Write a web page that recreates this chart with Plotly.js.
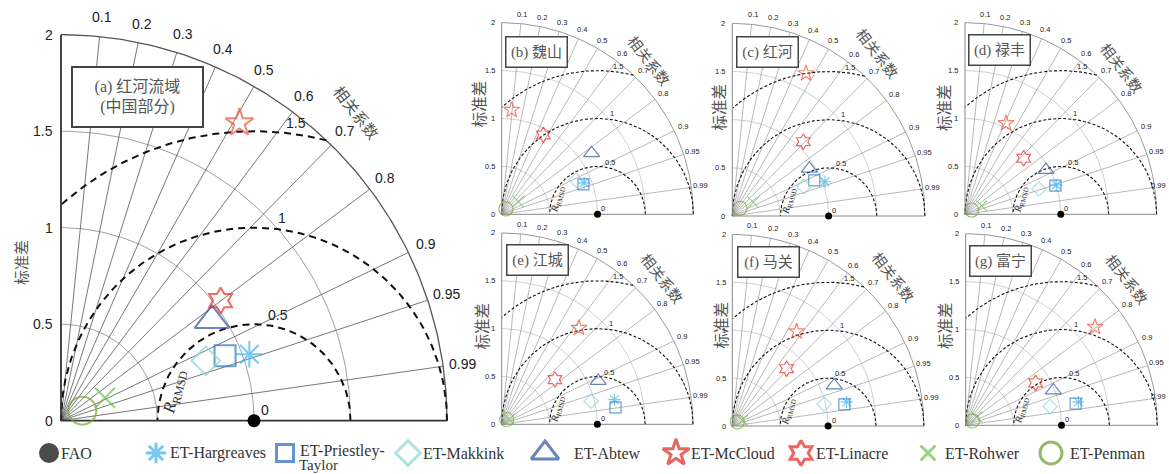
<!DOCTYPE html>
<html><head><meta charset="utf-8">
<script src="https://cdn.plot.ly/plotly-3.0.1.min.js"></script>
<style>html,body{margin:0;padding:0;background:#fff}#chart{width:1169px;height:474px}</style>
</head><body><div id="chart"></div>
<script>
// ---------------- DATA ----------------
const methods = ['ET-Hargreaves','ET-Priestley-Taylor','ET-Makkink','ET-Abtew','ET-McCloud','ET-Linacre','ET-Rohwer','ET-Penman'];
const refName = 'FAO';
const refStd = 1.0;
const refCorr = 1.0;
const corrTicks = [0.1,0.2,0.3,0.4,0.5,0.6,0.7,0.8,0.9,0.95,0.99];
const corrTickText = ['0.1','0.2','0.3','0.4','0.5','0.6','0.7','0.8','0.9','0.95','0.99'];
const stdTicks = [0,0.5,1,1.5,2];
const stdTickText = ['0','0.5','1','1.5','2'];
const rmsdLevels = [0.5,1,1.5];
const rmsdText = ['0.5','1','1.5'];
const panelTitles = ['(a) 红河流域<br>(中国部分)','(b) 魏山','(c) 红河','(d) 禄丰','(e) 江城','(f) 马关','(g) 富宁'];

// normalized standard deviation and correlation for each method (order as in methods)
const std_a  = [1.035,0.914,0.812,0.939,1.799,1.035,0.257,0.122];
const corr_a = [0.943,0.930,0.924,0.833,0.514,0.799,0.887,0.904];
const std_b  = [0.921,0.908,0.855,1.135,1.094,0.935,0.218,0.072];
const corr_b = [0.934,0.939,0.908,0.827,0.095,0.465,0.797,0.600];
const std_c  = [1.026,0.928,0.804,0.939,1.667,1.067,0.260,0.113];
const corr_c = [0.938,0.917,0.925,0.852,0.459,0.691,0.838,0.707];
const std_d  = [1.000,0.990,0.816,0.964,1.042,0.847,0.195,0.083];
const corr_d = [0.952,0.953,0.946,0.877,0.411,0.723,0.894,0.841];
const std_e  = [1.206,1.203,0.965,1.107,1.291,0.727,0.095,0.072];
const corr_e = [0.977,0.989,0.968,0.912,0.626,0.766,0.838,0.720];
const std_f  = [1.219,1.191,0.986,1.145,1.194,0.824,0.120,0.067];
const corr_f = [0.979,0.982,0.973,0.929,0.562,0.688,0.870,0.778];
const std_g  = [1.201,1.170,0.902,0.985,1.696,0.853,0.144,0.083];
const corr_g = [0.979,0.981,0.976,0.929,0.796,0.855,0.797,0.840];

// ---------------- STYLE / LAYOUT ----------------
const W = 1169, H = 474;
const symbols = ['asterisk-open','square-open','diamond-open','triangle-up-open','star-open','hexagram-open','x-thin-open','circle-open'];
const colors  = ['#3bb2ea','#2a72bf','#8fd4d6','#2c4ea3','#ec5232','#ea2b25','#6cc04a','#7aa53a'];
const legColors = ['#3bb2ea','#2068bd','#8fd4d6','#2c4ea3','#d8271d','#e8241f','#6cc04a','#6a9a2e'];
const sizeBig   = [22,21,22,30,21,20,20,28];
const sizeSmall = [10,11,11,14,12,12,11,14];
const sizeLeg   = [17,17,19,24,20,19,15,22];

const panels = [
  {ox:61,    oy:420.7, s:193,   std:std_a, corr:corr_a, big:true,  ylab:[-0.21,0.82],  clab:[1.534,1.60], box:[0.396,1.677]},
  {ox:501.7, oy:214.3, s:95.8,  std:std_b, corr:corr_b, big:false, ylab:[-0.245,1.15], clab:[1.55,1.61],  box:[0.363,1.69]},
  {ox:732.3, oy:216,   s:96.3,  std:std_c, corr:corr_c, big:false, ylab:[-0.145,1.13], clab:[1.52,1.69],  box:[0.37,1.70]},
  {ox:965,   oy:214.3, s:95.8,  std:std_d, corr:corr_d, big:false, ylab:[-0.23,1.12],  clab:[1.64,1.53],  box:[0.365,1.71]},
  {ox:501.7, oy:424.3, s:95.65, std:std_e, corr:corr_e, big:false, ylab:[-0.22,1.03],  clab:[1.686,1.52], box:[0.374,1.715]},
  {ox:732.3, oy:426,   s:95.8,  std:std_f, corr:corr_f, big:false, ylab:[-0.128,1.05], clab:[1.698,1.555],box:[0.373,1.715]},
  {ox:965.7, oy:425.3, s:95.8,  std:std_g, corr:corr_g, big:false, ylab:[-0.233,1.04], clab:[1.694,1.52], box:[0.36,1.72]}
];

const styleBig = {gridC:'#555', gridW:0.8, arcC:'#a0a0a0', arcW:1, outerC:'#555', outerW:1.3, axisC:'#333', axisW:1.8,
  dashW:2, dash:'7px,5px', tickF:14, tickDx:-0.03, corrF:14, rmsdF:14, rF:17, ylabF:15, clabF:15.5, boxF:16, boxW:133, boxH:62, boxBW:2,
  sizes:sizeBig, mLine:2, fao:13, corrR:2.1};
const styleSmall = {gridC:'#999', gridW:0.7, arcC:'#c4c4c4', arcW:0.8, outerC:'#999', outerW:1, axisC:'#888', axisW:1,
  dashW:1.1, dash:'3px,2px', tickF:7.5, tickDx:-0.05, corrF:7.5, rmsdF:7.5, rF:10, ylabF:15.5, clabF:14.5, boxF:15, boxW:63, boxH:32, boxBW:1.5,
  sizes:sizeSmall, mLine:1.2, fao:7, corrR:2.1};

function arc(cx, r, a0, a1, n) {
  const xs = [], ys = [];
  for (let i = 0; i <= n; i++) {
    const a = a0 + (a1 - a0) * i / n;
    xs.push(cx + r * Math.cos(a)); ys.push(r * Math.sin(a));
  }
  return [xs, ys];
}
function toXY(sd, c) { return [sd * c, sd * Math.sqrt(Math.max(0, 1 - c * c))]; }

const data = [];
const layout = {
  width: W, height: H, margin: {l:0, r:0, t:0, b:0},
  paper_bgcolor: '#fff', plot_bgcolor: 'rgba(0,0,0,0)', showlegend: false,
  font: {family: 'Liberation Sans, Arial, sans-serif', color: '#222'},
  annotations: []
};
const ann = (o) => layout.annotations.push(Object.assign({showarrow:false, xanchor:'center', yanchor:'middle'}, o));

panels.forEach((p, i) => {
  const k = i + 1;
  const xa = k === 1 ? 'x' : 'x' + k;
  const ya = k === 1 ? 'y' : 'y' + k;
  const st = p.big ? styleBig : styleSmall;
  // axis ranges extended beyond the diagram so outer labels stay visible
  const x0 = -0.3, x1 = Math.min(2.4, (W - p.ox) / p.s - 0.002);
  const y0 = -Math.min(0.12, (H - p.oy) / p.s - 0.002), y1 = Math.min(2.25, p.oy / p.s - 0.002);
  layout['xaxis' + (k === 1 ? '' : k)] = {domain:[(p.ox + x0 * p.s) / W, (p.ox + x1 * p.s) / W], range:[x0, x1],
    visible:false, fixedrange:true, anchor:ya};
  layout['yaxis' + (k === 1 ? '' : k)] = {domain:[(H - p.oy + y0 * p.s) / H, (H - p.oy + y1 * p.s) / H], range:[y0, y1],
    visible:false, fixedrange:true, anchor:xa};

  // std-dev arcs
  let gx = [], gy = [];
  [0.5, 1, 1.5].forEach(r => { const [a, b] = arc(0, r, 0, Math.PI / 2, 60); gx = gx.concat(a, [null]); gy = gy.concat(b, [null]); });
  data.push({type:'scatter', mode:'lines', x:gx, y:gy, xaxis:xa, yaxis:ya, line:{color:st.arcC, width:st.arcW}, hoverinfo:'skip'});
  // correlation radial lines
  let rx = [], ry = [];
  corrTicks.forEach(c => { const [x2, y2] = toXY(2, c); rx.push(0, x2, null); ry.push(0, y2, null); });
  data.push({type:'scatter', mode:'lines', x:rx, y:ry, xaxis:xa, yaxis:ya, line:{color:st.gridC, width:st.gridW}, hoverinfo:'skip'});
  // outer arc
  const [ox2, oy2] = arc(0, 2, 0, Math.PI / 2, 120);
  data.push({type:'scatter', mode:'lines', x:ox2, y:oy2, xaxis:xa, yaxis:ya, line:{color:st.outerC, width:st.outerW}, hoverinfo:'skip'});
  // RMSD arcs centred on reference
  let dx = [], dy = [];
  rmsdLevels.forEach(R => {
    const cmin = (3 - R * R) / (2 * R);
    const a0 = cmin >= 1 ? 0 : Math.acos(cmin);
    const a1 = R >= 1 ? Math.acos(-1 / R) : Math.PI;
    const [a, b] = arc(refStd, R, a0, a1, 120);
    dx = dx.concat(a, [null]); dy = dy.concat(b, [null]);
  });
  data.push({type:'scatter', mode:'lines', x:dx, y:dy, xaxis:xa, yaxis:ya, line:{color:'#111', width:st.dashW, dash:st.dash}, hoverinfo:'skip'});
  // axis lines (std axis and correlation = 1 axis)
  data.push({type:'scatter', mode:'lines', x:[0, 0, null, 0, 2], y:[2, 0, null, 0, 0], xaxis:xa, yaxis:ya,
    line:{color:st.axisC, width:st.axisW}, hoverinfo:'skip'});

  // reference point
  const rp = toXY(refStd, refCorr);
  data.push({type:'scatter', mode:'markers', x:[rp[0]], y:[rp[1]], xaxis:xa, yaxis:ya,
    marker:{symbol:'circle', size:st.fao, color:'#000'}, cliponaxis:false, name:refName});
  // methods
  const mx = [], my = [];
  p.std.forEach((sd, j) => { const [x, y] = toXY(sd, p.corr[j]); mx.push(x); my.push(y); });
  data.push({type:'scatter', mode:'markers', x:mx, y:my, xaxis:xa, yaxis:ya, text:methods, cliponaxis:false,
    marker:{symbol:symbols, size:st.sizes, color:colors, line:{width:st.mLine, color:colors}}});

  // std tick labels
  stdTicks.forEach((v, j) => ann({xref:xa, yref:ya, x:st.tickDx, y:v, text:stdTickText[j], xanchor:'right',
    font:{size:st.tickF, color:'#222'}}));
  // correlation labels (kept inside the page at the right edge)
  corrTicks.forEach((c, j) => {
    const [x, y] = toXY(st.corrR, c);
    const half = corrTickText[j].length * st.corrF * 0.29;
    const px = p.ox + x * p.s;
    if (px + half > W - 1) {
      ann({xref:xa, yref:ya, x:(W - 1.5 - p.ox) / p.s, y:y, text:corrTickText[j], xanchor:'right', font:{size:st.corrF, color:'#222'}});
    } else {
      ann({xref:xa, yref:ya, x:x, y:y, text:corrTickText[j], font:{size:st.corrF, color:'#222'}});
    }
  });
  // RMSD labels
  const rAng = [77, 82, 82];
  rmsdLevels.forEach((R, j) => {
    const a = rAng[j] * Math.PI / 180, rr = R + 0.06;
    ann({xref:xa, yref:ya, x:refStd + rr * Math.cos(a), y:rr * Math.sin(a), text:rmsdText[j], font:{size:st.rmsdF, color:'#222'}});
  });
  ann({xref:xa, yref:ya, x:refStd + 0.057, y:0.056, text:'0', font:{size:st.rmsdF, color:'#222'}});
  ann({xref:xa, yref:ya, x:0.59, y:0.15, text:'<i>R</i><sub>RMSD</sub>', textangle:-76,
    font:{size:st.rF, color:'#333', family:'Liberation Serif, serif'}});
  // axis titles
  ann({xref:xa, yref:ya, x:p.ylab[0], y:p.ylab[1], text:'标准差', textangle:-90,
    font:{size:st.ylabF, color:'#555', family:'Noto Sans CJK SC, sans-serif'}});
  ann({xref:xa, yref:ya, x:p.clab[0], y:p.clab[1], text:'相关系数', textangle:52,
    font:{size:st.clabF, color:'#555', family:'Noto Sans CJK SC, sans-serif'}});
  // panel title box
  ann({xref:xa, yref:ya, x:p.box[0], y:p.box[1], text:panelTitles[i],
    font:{size:st.boxF, color:'#555', family:'Liberation Serif, Noto Sans CJK SC, serif'},
    bgcolor:'#fff', bordercolor:'#444', borderwidth:st.boxBW, borderpad:1,
    width:st.boxW - 2 * st.boxBW - 2, height:st.boxH - 2 * st.boxBW - 2, align:'center', valign:'middle'});
});

// ---------------- custom legend (bottom row) ----------------
layout.xaxis8 = {domain:[0,1], range:[0,W], visible:false, fixedrange:true, anchor:'y8'};
layout.yaxis8 = {domain:[0,1], range:[H,0], visible:false, fixedrange:true, anchor:'x8'};
const legNames = [refName].concat(methods);
const legMarkX = [49,156,285,408,545,676,801,928,1051];
const legTextX = [59,168,298,421,572,689,814,943,1068];
const legY = 453;
data.push({type:'scatter', mode:'markers', xaxis:'x8', yaxis:'y8', x:legMarkX, y:legMarkX.map(() => legY), cliponaxis:false,
  text:legNames,
  marker:{symbol:['circle'].concat(symbols), size:[17].concat(sizeLeg),
    color:['#000'].concat(legColors), line:{width:3, color:['#000'].concat(legColors)}}});
legNames.forEach((n, j) => {
  const two = n === 'ET-Priestley-Taylor';
  ann({xref:'x8', yref:'y8', x:legTextX[j], y:two ? legY - 2 : legY, text:two ? 'ET-Priestley-' : n, xanchor:'left',
    font:{size:16, color:'#333', family:'Liberation Serif, serif'}});
  if (two) {
    ann({xref:'x8', yref:'y8', x:legTextX[j], y:473.5, text:'Taylor', xanchor:'left', yanchor:'bottom', borderpad:0,
      font:{size:15, color:'#333', family:'Liberation Serif, serif'}});
  }
});

Plotly.newPlot('chart', data, layout, {staticPlot:true, displayModeBar:false});
</script>
</body></html>
